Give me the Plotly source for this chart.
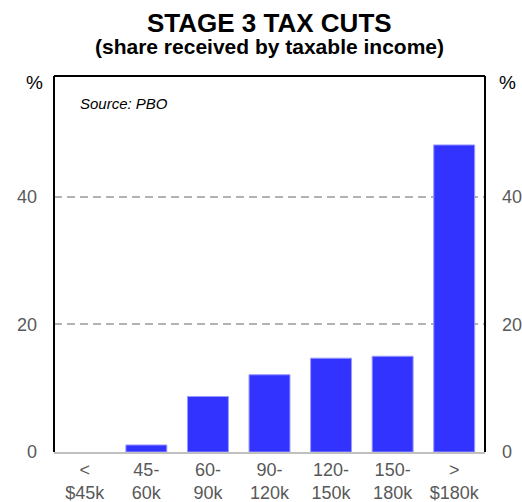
import plotly.graph_objects as go

categories = ["<<br>$45k", "45-<br>60k", "60-<br>90k", "90-<br>120k", "120-<br>150k", "150-<br>180k", "><br>$180k"]
shares = [0.0, 1.1, 8.7, 12.1, 14.7, 15.0, 48.1]
y_ticks = [0, 20, 40]

FONT = "Liberation Sans, Arial, sans-serif"
GREY = "#595959"
YMAX = 58.9
L, R, T, B = 54, 37, 76, 50
W, H = 522, 502
PH = H - T - B
PW = W - L - R


def py(px):
    return (H - B - px) / PH


def px_(x):
    return (x - L) / PW


fig = go.Figure()
fig.add_trace(go.Bar(
    x=categories, y=shares,
    marker=dict(color="#3333ff",
                line=dict(color="#9a9aff", width=[1 if v > 0 else 0 for v in shares])),
    width=0.665, showlegend=False, hoverinfo="skip",
))
fig.add_trace(go.Scatter(x=categories[:1], y=[0], yaxis="y2", mode="markers",
                         marker=dict(opacity=0), showlegend=False, hoverinfo="skip"))

TICKFONT = dict(family=FONT, size=18, color=GREY)

fig.update_layout(
    width=W, height=H,
    margin=dict(l=L, r=R, t=T, b=B),
    paper_bgcolor="white", plot_bgcolor="white",
    font=dict(family=FONT, color=GREY, size=18),
    xaxis=dict(
        showline=True, linecolor="#c0c0c0", linewidth=2,
        ticks="", tickfont=TICKFONT,
        showgrid=False, fixedrange=True, automargin=False,
    ),
    yaxis=dict(
        range=[0, YMAX], tickvals=y_ticks, ticktext=[str(v) for v in y_ticks],
        showgrid=True, gridcolor="#b3b3b3", gridwidth=2, griddash="8px,5px",
        zeroline=False, showline=False, ticks="", automargin=False,
        ticklabelstandoff=16, tickfont=TICKFONT,
    ),
    yaxis2=dict(
        range=[0, YMAX], tickvals=y_ticks, ticktext=[str(v) for v in y_ticks],
        overlaying="y", side="right", showgrid=False, zeroline=False,
        showline=False, ticks="", ticklabelstandoff=16, automargin=False,
        tickfont=TICKFONT,
    ),
    bargap=0.335,
)

for x0, x1, y0, y1 in [(0, 0, 0, 1), (1, 1, 0, 1), (0, 1, 1, 1)]:
    fig.add_shape(type="line", xref="paper", yref="paper", x0=x0, x1=x1, y0=y0, y1=y1,
                  line=dict(color="black", width=2))

fig.add_annotation(text="<b>STAGE 3 TAX CUTS</b>", xref="paper", yref="paper",
                   x=0.5, y=py(23), xanchor="center", yanchor="middle", showarrow=False,
                   font=dict(family=FONT, size=26, color="black"))
fig.add_annotation(text="<b>(share received by taxable income)</b>", xref="paper", yref="paper",
                   x=0.5, y=py(47), xanchor="center", yanchor="middle", showarrow=False,
                   font=dict(family=FONT, size=21, color="black"))
fig.add_annotation(text="<i>Source: PBO</i>", xref="paper", yref="paper", x=px_(78), y=py(103),
                   xanchor="left", yanchor="middle", showarrow=False,
                   font=dict(family=FONT, size=15, color="black"))
fig.add_annotation(text="%", xref="paper", yref="paper", x=px_(34), y=py(83),
                   xanchor="center", yanchor="middle", showarrow=False,
                   font=dict(family=FONT, size=19, color="black"))
fig.add_annotation(text="%", xref="paper", yref="paper", x=px_(507), y=py(83),
                   xanchor="center", yanchor="middle", showarrow=False,
                   font=dict(family=FONT, size=19, color="black"))

fig.write_html("out.html")
